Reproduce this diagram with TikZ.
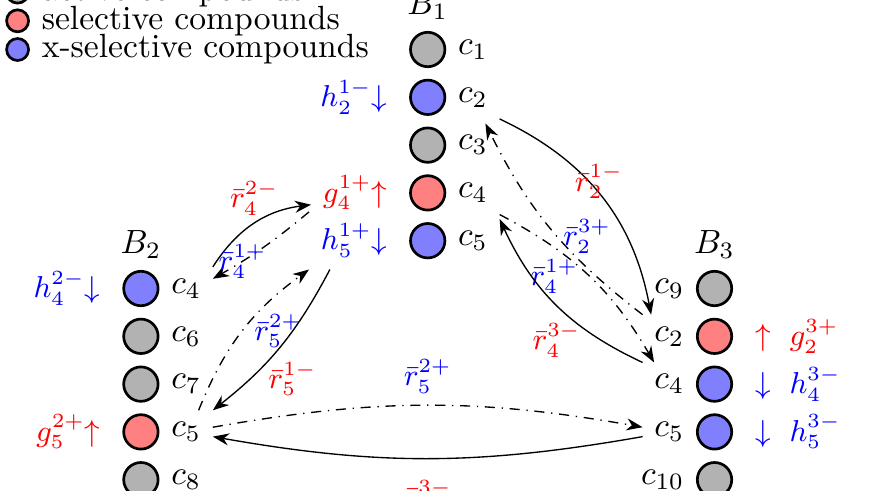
\documentclass[tikz,border=0pt]{standalone}
\usepackage{amsmath,amssymb}
\usepackage{xcolor}
\usetikzlibrary{arrows.meta,positioning}

\begin{document}
\begin{tikzpicture}[
    cpd/.style={circle, draw=black, thick, minimum size=3.6mm, inner sep=0pt},
    active/.style={cpd, fill=gray!60},
    sel/.style={cpd, fill=red!50},
    xsel/.style={cpd, fill=blue!50},
    key/.style={circle, draw=black, thick, minimum size=2.3mm, inner sep=0pt},
    tagred/.style={font=\small, text=red},
    tagblue/.style={font=\small, text=blue},
    rminus/.style={font=\small, text=red},
    rplus/.style={font=\small, text=blue},
    fwd/.style={-{Stealth}},
    bwd/.style={-{Stealth}, dash dot},
  ]

\path[use as bounding box, clip] (-4.474,-4.608) rectangle (4.731,0.518);

\node[key, fill=gray!60] (k1) at (-4.29,0.6) {};
\node[right=0pt of k1] (l1) {active compounds};
\node[key, fill=red!50] (k2) at (-4.29,0.3) {};
\node[right=0pt of k2] (l2) {selective compounds};
\node[key, fill=blue!50] (k3) at (-4.29,0) {};
\node[right=0pt of k3] (l3) {x-selective compounds};

\node[active] (b1p1) at (0,0) {};
\node[xsel]   (b1p2) at (0,-0.5) {};
\node[active] (b1p3) at (0,-1) {};
\node[sel]    (b1p4) at (0,-1.5) {};
\node[xsel]   (b1p5) at (0,-2) {};
\node[above=0pt of b1p1] (b1) {$B_1$};
\node[right=0pt of b1p1] (b1c1) {$c_1$};
\node[right=0pt of b1p2] (b1c2) {$c_2$};
\node[right=0pt of b1p3] (b1c3) {$c_3$};
\node[right=0pt of b1p4] (b1c4) {$c_4$};
\node[right=0pt of b1p5] (b1c5) {$c_5$};
\node[tagblue, left=3pt of b1p2] (b1t2) {$h_2^{1-}{\downarrow}$};
\node[tagred,  left=3pt of b1p4] (b1t4) {$g_4^{1+}{\uparrow}$};
\node[tagblue, left=3pt of b1p5] (b1t5) {$h_5^{1+}{\downarrow}$};

\node[xsel]   (b2p1) at (-3,-2.5) {};
\node[active] (b2p2) at (-3,-3) {};
\node[active] (b2p3) at (-3,-3.5) {};
\node[sel]    (b2p4) at (-3,-4) {};
\node[active] (b2p5) at (-3,-4.5) {};
\node[above=0pt of b2p1] (b2) {$B_2$};
\node[right=0pt of b2p1] (b2c4) {$c_4$};
\node[right=0pt of b2p2] (b2c6) {$c_6$};
\node[right=0pt of b2p3] (b2c7) {$c_7$};
\node[right=0pt of b2p4] (b2c5) {$c_5$};
\node[right=0pt of b2p5] (b2c8) {$c_8$};
\node[tagblue, left=3pt of b2p1] (b2t4) {$h_4^{2-}{\downarrow}$};
\node[tagred,  left=3pt of b2p4] (b2t5) {$g_5^{2+}{\uparrow}$};

\node[active] (b3p1) at (3,-2.5) {};
\node[sel]    (b3p2) at (3,-3) {};
\node[xsel]   (b3p3) at (3,-3.5) {};
\node[xsel]   (b3p4) at (3,-4) {};
\node[active] (b3p5) at (3,-4.5) {};
\node[above=0pt of b3p1] (b3) {$B_3$};
\node[left=0pt of b3p1] (b3c9) {$c_9$};
\node[left=0pt of b3p2] (b3c2) {$c_2$};
\node[left=0pt of b3p3] (b3c4) {$c_4$};
\node[left=0pt of b3p4] (b3c5) {$c_5$};
\node[left=0pt of b3p5] (b3c10) {$c_{10}$};
\node[tagred,  right=3pt of b3p2] (b3t2) {$\uparrow\ g_2^{3+}$};
\node[tagblue, right=3pt of b3p3] (b3t4) {$\downarrow\ h_4^{3-}$};
\node[tagblue, right=3pt of b3p4] (b3t5) {$\downarrow\ h_5^{3-}$};

\draw[fwd] (b1c2.south east) to[bend left=27] node[rminus, pos=0.42, xshift=3pt] {$\bar{r}_2^{1-}$} (b3c2.130);
\draw[bwd] (b3c2.north west) to[bend left=13] node[rplus, right, yshift=-2pt] {$\bar{r}_2^{3+}$} (b1c3.60);
\draw[bwd] (b1c4.south east) to[bend left=16] node[rplus, pos=0.28, below] {$\bar{r}_4^{1+}$} (b3c4.125);
\draw[fwd] (b3c4.north west) to[bend left=20] node[rminus, below, yshift=-2pt] {$\bar{r}_4^{3-}$} (b1c5.north east);

\draw[fwd] (b2c4.north east) to[bend left=25] node[rminus, above, yshift=-1pt] {$\bar{r}_4^{2-}$} (b1t4.195);
\draw[bwd] (b1t5.north west) to[bend left=5] node[rplus, pos=0.72] {$\bar{r}_4^{1+}$} (b2c4.20);
\draw[bwd] (b2c5.60) to[bend left=16] node[rplus, right] {$\bar{r}_5^{2+}$} (b1t5.south west);
\draw[fwd] (b1t5.-130) to[bend left=12] node[rminus, pos=0.7, right, yshift=-2pt] {$\bar{r}_5^{1-}$} (b2c5.north east);

\draw[bwd] (b2c5.10) to[bend left=10] node[rplus, above] {$\bar{r}_5^{2+}$} (b3c5.170);
\draw[fwd] (b3c5.190) to[bend left=10] node[rminus, below=3pt] {$\bar{r}_5^{3-}$} (b2c5.-10);

\end{tikzpicture}
\end{document}
